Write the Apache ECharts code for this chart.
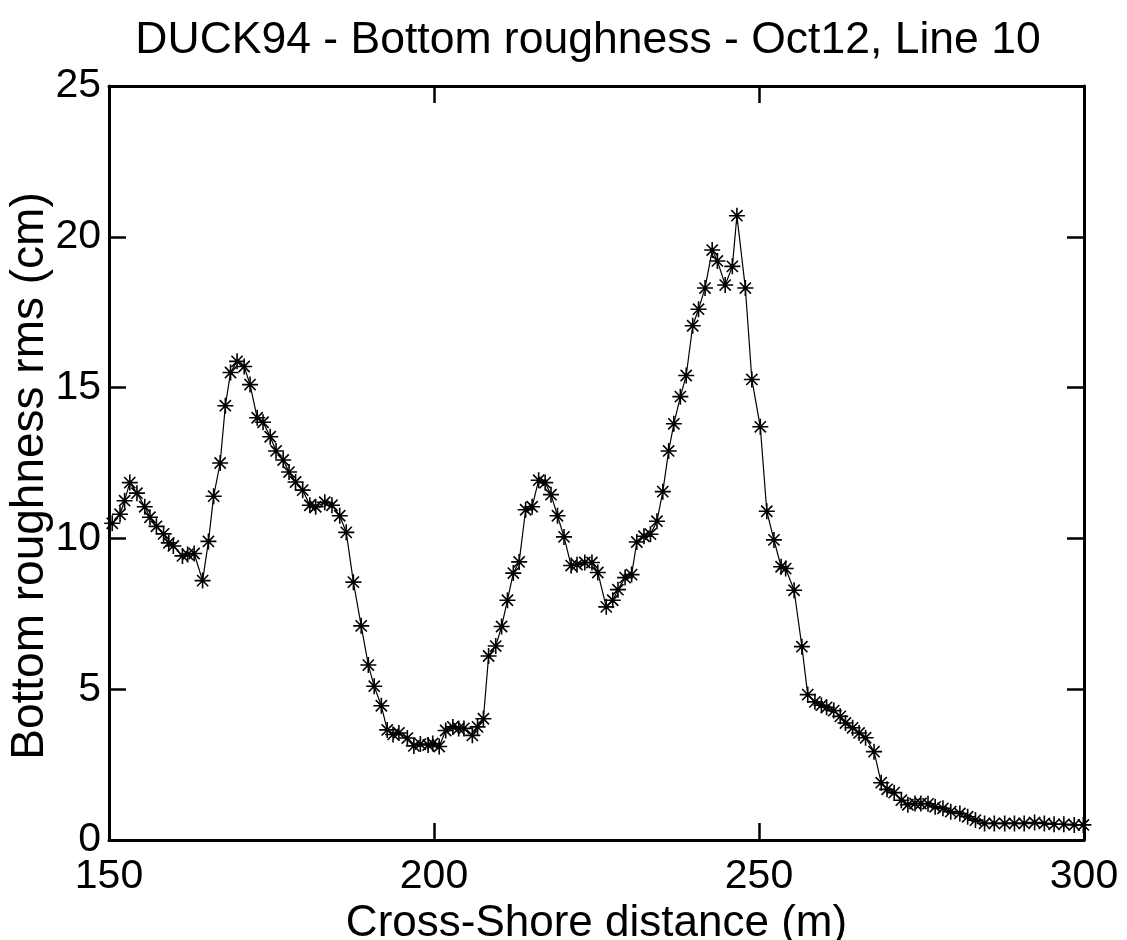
<!DOCTYPE html>
<html>
<head>
<meta charset="utf-8">
<title>DUCK94 bottom roughness</title>
<script src="https://cdn.jsdelivr.net/npm/echarts@6/dist/echarts.min.js"></script>
<style>
  html, body { margin: 0; padding: 0; background: #fff; }
  #main { width: 1127px; height: 940px; }
</style>
</head>
<body>
<div id="main"></div>
<script>
// cross-shore distance (m)
var distance = [
  150.5, 151.7, 152.4, 153.2, 154.3, 155.5, 156.3, 157.3, 158.4, 159.2,
  159.9, 161.3, 162.1, 163.1, 164.4, 165.3, 166.1, 167.1, 167.9, 168.7,
  169.7, 170.8, 171.7, 172.8, 173.7, 174.8, 175.7, 176.8, 177.7, 178.7,
  179.8, 180.9, 181.8, 183.2, 184.3, 185.5, 186.5, 187.6, 188.8, 189.9,
  190.8, 191.9, 192.8, 193.7, 194.6, 195.9, 196.9, 197.9, 199.1, 199.8,
  200.8, 201.8, 202.9, 203.8, 204.6, 205.9, 206.7, 207.6, 208.4, 209.5,
  210.4, 211.3, 212.2, 213.1, 214.1, 215.1, 216.1, 217.1, 218.0, 219.0,
  220.0, 221.1, 222.0, 223.2, 224.3, 225.2, 226.5, 227.5, 228.3, 229.4,
  230.4, 231.2, 232.3, 233.3, 234.3, 235.2, 236.1, 236.9, 237.9, 238.8,
  239.8, 240.7, 241.7, 242.8, 243.6, 244.8, 245.9, 246.6, 247.9, 248.9,
  250.2, 251.2, 252.3, 253.4, 254.1, 255.4, 256.6, 257.5, 258.6, 259.6,
  260.4, 261.5, 262.5, 263.3, 264.4, 265.4, 266.4, 267.7, 268.8, 269.7,
  270.8, 271.9, 272.9, 274.0, 274.9, 276.0, 277.1, 278.3, 279.5, 280.9,
  282.1, 283.3, 284.7, 286.2, 287.8, 289.3, 290.8, 292.4, 293.9, 295.4,
  296.9, 298.5, 299.9
]
// bottom roughness rms (cm)
var roughness = [
  10.5, 10.8, 11.25, 11.85, 11.5, 11.05, 10.7, 10.4, 10.15, 9.85,
  9.75, 9.42, 9.47, 9.5, 8.6, 9.9, 11.4, 12.5, 14.4, 15.5,
  15.87, 15.7, 15.1, 14.0, 13.85, 13.37, 12.9, 12.6, 12.2, 11.87,
  11.6, 11.1, 11.05, 11.2, 11.1, 10.75, 10.2, 8.55, 7.1, 5.8,
  5.1, 4.45, 3.65, 3.5, 3.55, 3.38, 3.12, 3.18, 3.15, 3.2,
  3.1, 3.63, 3.75, 3.7, 3.7, 3.47, 3.75, 4.02, 6.1, 6.43,
  7.08, 7.95, 8.85, 9.22, 10.95, 11.05, 11.93, 11.85, 11.45, 10.75,
  10.05, 9.1, 9.13, 9.2, 9.2, 8.87, 7.73, 7.95, 8.3, 8.7,
  8.8, 9.88, 10.07, 10.14, 10.57, 11.55, 12.9, 13.8, 14.7, 15.4,
  17.05, 17.6, 18.3, 19.56, 19.2, 18.4, 19.02, 20.7, 18.3, 15.27,
  13.7, 10.9, 9.95, 9.06, 9.0, 8.28, 6.41, 4.82, 4.58, 4.47,
  4.4, 4.29, 4.1, 3.88, 3.72, 3.55, 3.39, 2.93, 1.9, 1.68,
  1.57, 1.32, 1.17, 1.21, 1.21, 1.2, 1.1, 1.05, 0.94, 0.88,
  0.77, 0.66, 0.55, 0.55, 0.55, 0.55, 0.55, 0.58, 0.55, 0.52,
  0.52, 0.5, 0.5
]
var xTicks = [150, 300, 50]
var yTicks = [0, 25, 5]

var seriesData = distance.map(function (d, i) {
  return [d, roughness[i]]
})

var font = 'Liberation Sans, Arial, Helvetica, sans-serif'
// matlab style '*' marker
var starPath = 'path://M0,-10L0,10M-10,0L10,0M-7,-7L7,7M-7,7L7,-7'

var axisLine = { show: true, onZero: false, lineStyle: { color: '#000', width: 3 } }
var axisTick = { show: true, inside: true, length: 17, lineStyle: { color: '#000', width: 2.5 } }

var chart = echarts.init(document.getElementById('main'))

var option = {
  backgroundColor: '#fff',
  animation: false,
  title: {
    text: 'DUCK94 - Bottom roughness - Oct12, Line 10',
    left: 583,
    top: 13,
    textAlign: 'center',
    textStyle: {
      fontFamily: font,
      fontSize: 44.5,
      fontWeight: 'normal',
      color: '#000'
    }
  },
  grid: {
    left: 109,
    right: 43,
    top: 86,
    bottom: 100,
    containLabel: false,
    outerBoundsMode: 'none'
  },
  xAxis: [{
    type: 'value',
    position: 'bottom',
    min: xTicks[0],
    max: xTicks[1],
    interval: xTicks[2],
    name: 'Cross-Shore distance (m)',
    nameLocation: 'middle',
    nameGap: 62,
    nameMoveOverlap: false,
    nameTextStyle: { fontFamily: font, fontSize: 44, color: '#000' },
    axisLine: axisLine,
    axisTick: axisTick,
    splitLine: { show: false },
    axisLabel: { fontFamily: font, fontSize: 41, color: '#000', margin: 16 }
  }, {
    type: 'value',
    position: 'top',
    min: xTicks[0],
    max: xTicks[1],
    interval: xTicks[2],
    axisLine: axisLine,
    axisTick: axisTick,
    splitLine: { show: false },
    axisLabel: { show: false }
  }],
  yAxis: [{
    type: 'value',
    position: 'left',
    min: yTicks[0],
    max: yTicks[1],
    interval: yTicks[2],
    name: 'Bottom roughness rms (cm)',
    nameLocation: 'middle',
    nameGap: 56,
    nameMoveOverlap: false,
    nameTextStyle: { fontFamily: font, fontSize: 46, color: '#000', padding: [0, 26, 0, 0] },
    axisLine: axisLine,
    axisTick: axisTick,
    splitLine: { show: false },
    axisLabel: { fontFamily: font, fontSize: 41, color: '#000', margin: 8 }
  }, {
    type: 'value',
    position: 'right',
    min: yTicks[0],
    max: yTicks[1],
    interval: yTicks[2],
    axisLine: axisLine,
    axisTick: axisTick,
    splitLine: { show: false },
    axisLabel: { show: false }
  }],
  series: [{
    type: 'line',
    xAxisIndex: 0,
    yAxisIndex: 0,
    data: seriesData,
    symbol: starPath,
    symbolSize: 16,
    showAllSymbol: true,
    lineStyle: { color: '#000', width: 1.2 },
    itemStyle: { color: '#000', borderColor: '#000', borderWidth: 1.6 }
  }]
}

chart.setOption(option)
</script>
</body>
</html>
